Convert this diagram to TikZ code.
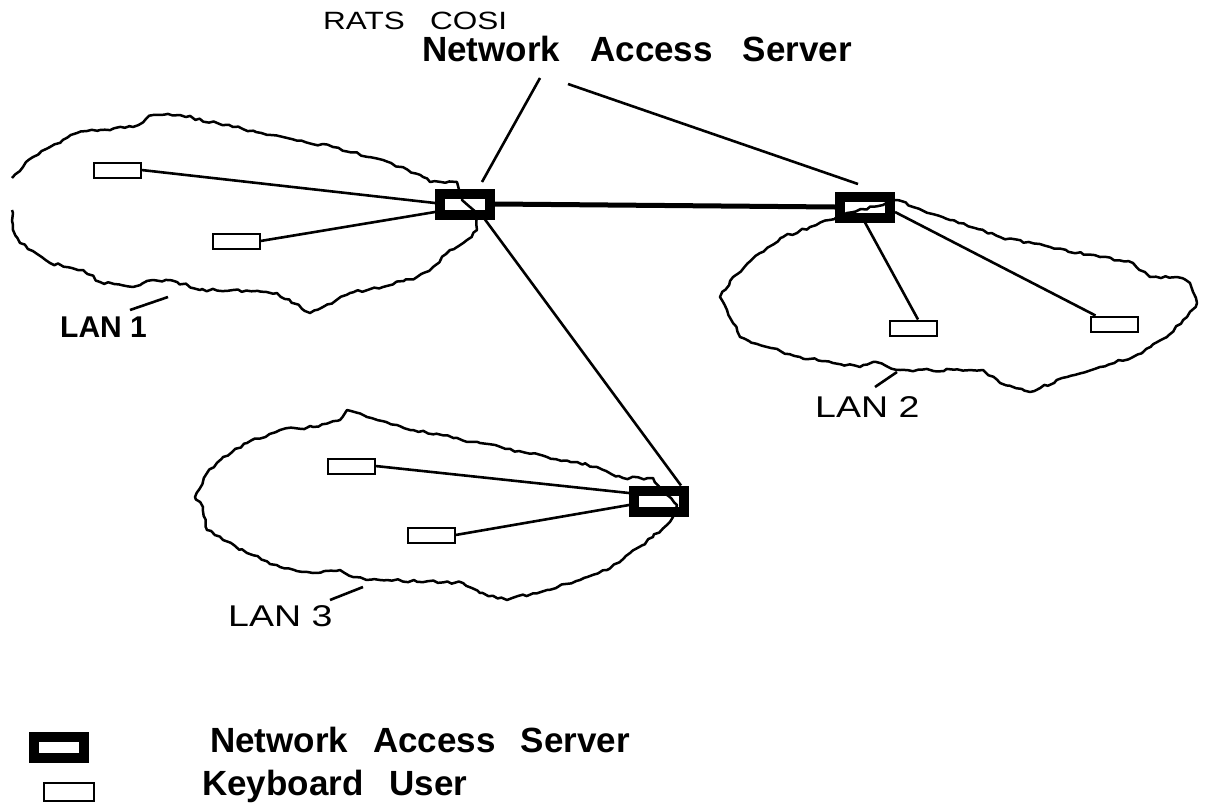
\documentclass[tikz,border=0pt]{standalone}
\usepackage{fontspec}
\usepackage{graphicx}
\setmainfont{Liberation Sans}
\usetikzlibrary{decorations.pathmorphing}
\begin{document}
\begin{tikzpicture}[x=1pt,y=-1pt,
  nasbox/.style={draw,line width=10pt,minimum width=50pt,minimum height=21pt,inner sep=0pt},
  userbox/.style={draw,line width=2pt,minimum width=47pt,minimum height=15pt,inner sep=0pt},
  link/.style={line width=2.6pt},
  trunk/.style={line width=5pt},
  cloudline/.style={line width=2.5pt,line join=round,decorate,decoration={random steps,segment length=5pt,amplitude=1.4pt}},
  boldlbl/.style={font=\fontsize{35}{40}\selectfont\bfseries,inner sep=0pt,anchor=base west},
  lanbold/.style={font=\fontsize{30}{34}\selectfont\bfseries,inner sep=0pt,anchor=base west},
  thinlbl/.style={font=\fontsize{30}{34}\selectfont,inner sep=0pt,anchor=base west},
  ratslbl/.style={font=\fontsize{25}{28}\selectfont,inner sep=0pt,anchor=base west}]
\pgfmathsetseed{7}
\useasboundingbox (0,0) rectangle (1205,809);
\fill[white] (0,0) rectangle (1205,809);

% titles
\node[ratslbl] (rats) at (323,29) {\scalebox{1.26}[1]{RATS\hspace{20pt}COSI}};
\node[boldlbl] (title) at (422,61) {Network\hspace{30pt}Access\hspace{30pt}Server};

% servers
\node[nasbox] (nas1) at (465,204) {};
\node[nasbox] (nas2) at (865,207) {};
\node[nasbox] (nas3) at (659,501) {};

% users
\node[userbox] (u11) at (117,170) {};
\node[userbox] (u12) at (236,241) {};
\node[userbox] (u21) at (913,328) {};
\node[userbox] (u22) at (1114,324) {};
\node[userbox] (u31) at (351,466) {};
\node[userbox] (u32) at (431,535) {};

% clouds
\draw[cloudline] (12,178) -- (33,157) -- (50,147) -- (77,133) -- (100,130) -- (133,127) -- (153,115) -- (180,115) -- (233,127) -- (283,137) -- (333,147) -- (383,160) -- (423,177) -- (430,182) -- (457,182) -- (462,200) -- (478,215) -- (477,230) -- (467,240) -- (450,250) -- (433,267) -- (417,277) -- (383,287) -- (350,293) -- (310,313) -- (277,293) -- (233,290) -- (200,290) -- (177,282) -- (153,280) -- (133,287) -- (100,282) -- (83,270) -- (50,263) -- (20,243) -- (13,230) -- (13,213) -- (12,210);
\draw[cloudline] (895,200) -- (950,220) -- (1000,237) -- (1050,247) -- (1100,257) -- (1133,263) -- (1150,277) -- (1177,277) -- (1190,283) -- (1197,303) -- (1187,317) -- (1167,337) -- (1133,357) -- (1100,367) -- (1067,377) -- (1030,392) -- (1000,383) -- (983,370) -- (900,370) -- (873,362) -- (860,367) -- (833,363) -- (800,357) -- (767,347) -- (740,337) -- (733,323) -- (727,310) -- (720,297) -- (733,277) -- (760,253) -- (783,237) -- (810,227) -- (837,217) -- (847,213) -- (883,205) -- cycle;
\draw[cloudline] (677,505) -- (673,517) -- (653,537) -- (630,553) -- (607,570) -- (580,580) -- (547,590) -- (507,600) -- (480,593) -- (463,583) -- (380,580) -- (353,577) -- (340,570) -- (313,573) -- (280,567) -- (247,553) -- (223,540) -- (207,530) -- (203,507) -- (195,497) -- (207,473) -- (223,457) -- (247,443) -- (280,430) -- (313,427) -- (340,420) -- (347,410) -- (367,417) -- (413,430) -- (480,443) -- (547,457) -- (597,467) -- (623,478) -- (653,478) -- (660,490) -- cycle;

% connectors
\draw[trunk] (nas1.east) -- (nas2.west);
\draw[link] ([xshift=-10pt]nas1.south east) -- ([xshift=-8pt]nas3.north east);
\draw[link] (u11.east) -- ([yshift=1pt]nas1.west);
\draw[link] (u12.east) -- ([yshift=-8pt]nas1.west);
\draw[link] (nas2.south) -- ([xshift=5pt]u21.north);
\draw[link] ([yshift=-5pt]nas2.east) -- ([xshift=6pt]u22.north west);
\draw[link] (u31.east) -- ([yshift=8pt]nas3.west);
\draw[link] (u32.east) -- ([yshift=-4pt]nas3.west);

% title pointers
\coordinate (p1a) at (540,78);
\coordinate (p1b) at (482,182);
\coordinate (p2a) at (568,84);
\coordinate (p2b) at (858,184);
\draw[link] (p1a) -- (p1b);
\draw[link] (p2a) -- (p2b);

% LAN labels
\node[lanbold] (lan1) at (60,337) {LAN 1};
\node[thinlbl] (lan2) at (815,417) {\scalebox{1.25}[1]{LAN 2}};
\node[thinlbl] (lan3) at (228,626) {\scalebox{1.25}[1]{LAN 3}};
\coordinate (l1a) at (130,310); \coordinate (l1b) at (168,297);
\coordinate (l2a) at (875,387); \coordinate (l2b) at (897,372);
\coordinate (l3a) at (330,600); \coordinate (l3b) at (363,587);
\draw[link] (l1a) -- (l1b);
\draw[link] (l2a) -- (l2b);
\draw[link] (l3a) -- (l3b);

% legend
\node[nasbox] (legnas) at (59,747) {};
\node[userbox,minimum width=50pt,minimum height=18pt] (leguser) at (69,792) {};
\node[boldlbl] (legnastxt) at (210,752) {Network\hspace{25pt}Access\hspace{25pt}Server};
\node[boldlbl] (legusertxt) at (202,795) {Keyboard\hspace{26pt}User};
\end{tikzpicture}
\end{document}
